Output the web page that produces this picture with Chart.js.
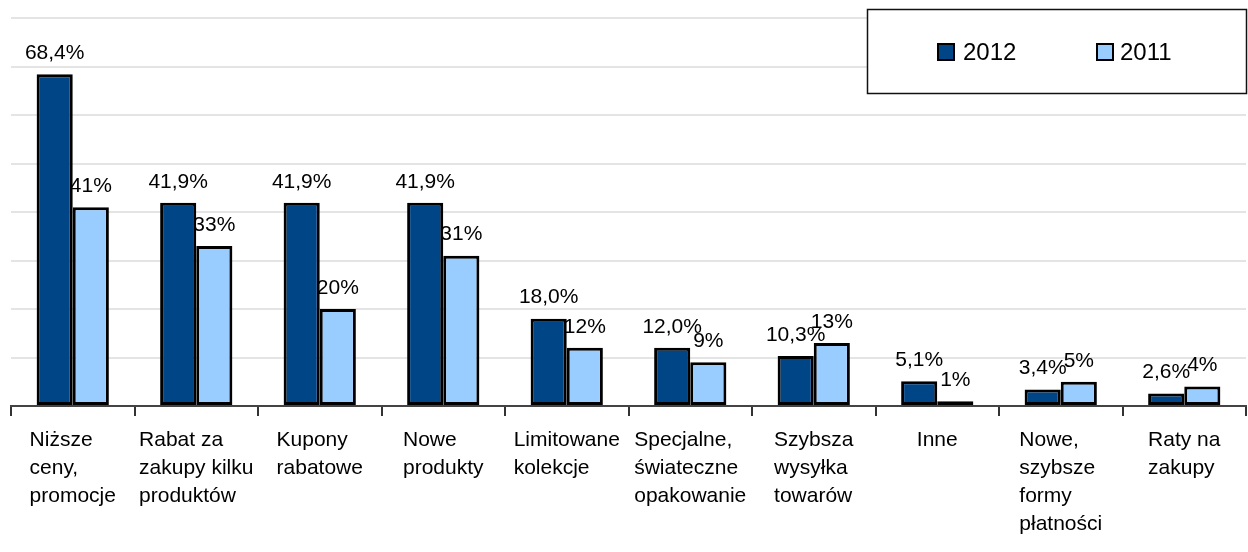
<!DOCTYPE html>
<html>
<head>
<meta charset="utf-8">
<title>Promocje 2012 / 2011</title>
<script src="https://cdn.jsdelivr.net/npm/chart.js@4/dist/chart.umd.min.js"></script>
<style>
    body { margin: 0; background: #fff; }
    canvas { display: block; }
</style>
</head>
<body>
<canvas id="chart" width="1248" height="552"></canvas>
<script>
    var categories = [
        ['Niższe', 'ceny,', 'promocje'],
        ['Rabat za', 'zakupy kilku', 'produktów'],
        ['Kupony', 'rabatowe'],
        ['Nowe', 'produkty'],
        ['Limitowane', 'kolekcje'],
        ['Specjalne,', 'świateczne', 'opakowanie'],
        ['Szybsza', 'wysyłka', 'towarów'],
        ['Inne'],
        ['Nowe,', 'szybsze', 'formy', 'płatności'],
        ['Raty na', 'zakupy']
    ];
    var values2012 = [68.4, 41.9, 41.9, 41.9, 18.0, 12.0, 10.3, 5.1, 3.4, 2.6];
    var values2011 = [41, 33, 20, 31, 12, 9, 13, 1, 5, 4];

    var FONT = '"Liberation Sans", Arial, sans-serif';

    function fmt2012(v) { return v.toFixed(1).replace('.', ',') + '%'; }
    function fmt2011(v) { return v + '%'; }

    // value labels above each bar
    var barLabels = {
        id: 'barLabels',
        afterDatasetsDraw: function(chart) {
            var ctx = chart.ctx;
            ctx.save();
            ctx.font = '21px ' + FONT;
            ctx.fillStyle = '#000';
            ctx.textAlign = 'center';
            ctx.textBaseline = 'middle';
            chart.data.datasets.forEach(function(ds, di) {
                var meta = chart.getDatasetMeta(di);
                meta.data.forEach(function(bar, i) {
                    ctx.fillText(ds.fmt(ds.data[i]), bar.x, bar.y - 21);
                });
            });
            ctx.restore();
        }
    };

    // category names: left aligned lines, block centred under the category
    var catLabels = {
        id: 'catLabels',
        afterDraw: function(chart) {
            var ctx = chart.ctx;
            var xs = chart.scales.x;
            var top = chart.chartArea.bottom + 34;
            ctx.save();
            ctx.font = '21px ' + FONT;
            ctx.fillStyle = '#000';
            ctx.textAlign = 'left';
            ctx.textBaseline = 'middle';
            categories.forEach(function(lines, i) {
                var w = 0;
                lines.forEach(function(l) { w = Math.max(w, ctx.measureText(l).width); });
                var left = xs.getPixelForValue(i) - w / 2;
                lines.forEach(function(l, k) {
                    ctx.fillText(l, left, top + k * 28);
                });
            });
            ctx.restore();
        }
    };

    // framed legend in the top right corner
    var boxLegend = {
        id: 'boxLegend',
        afterDraw: function(chart) {
            var ctx = chart.ctx;
            ctx.save();
            ctx.fillStyle = '#fff';
            ctx.fillRect(867, 9, 380, 85);
            ctx.strokeStyle = '#111';
            ctx.lineWidth = 1.5;
            ctx.strokeRect(867.5, 9.5, 379, 84);

            var items = [[937, 963], [1096, 1120]];
            ctx.font = '24px ' + FONT;
            ctx.textAlign = 'left';
            ctx.textBaseline = 'middle';
            chart.data.datasets.forEach(function(ds, di) {
                var pos = items[di];
                ctx.fillStyle = ds.backgroundColor;
                ctx.fillRect(pos[0], 43, 18, 18);
                ctx.lineWidth = 2;
                ctx.strokeStyle = '#000';
                ctx.strokeRect(pos[0] + 1, 44, 16, 16);
                ctx.fillStyle = '#000';
                ctx.fillText(ds.label, pos[1], 53);
            });
            ctx.restore();
        }
    };

    new Chart(document.getElementById('chart'), {
        type: 'bar',
        data: {
            labels: categories,
            datasets: [{
                label: '2012',
                data: values2012,
                fmt: fmt2012,
                backgroundColor: '#004586',
                borderColor: '#000',
                borderWidth: 3,
                borderSkipped: false
            }, {
                label: '2011',
                data: values2011,
                fmt: fmt2011,
                backgroundColor: '#99ccff',
                borderColor: '#000',
                borderWidth: 3,
                borderSkipped: false
            }]
        },
        options: {
            responsive: false,
            animation: false,
            layout: {
                padding: { top: 18, left: 11, right: 2, bottom: 136 }
            },
            datasets: {
                bar: { barPercentage: 1, categoryPercentage: 0.585 }
            },
            plugins: {
                legend: { display: false },
                tooltip: { enabled: false }
            },
            scales: {
                x: {
                    grid: {
                        offset: true,
                        drawOnChartArea: false,
                        drawTicks: true,
                        tickLength: 10,
                        color: '#333',
                        lineWidth: 2
                    },
                    border: { display: true, color: '#444', width: 2 },
                    ticks: { display: false }
                },
                y: {
                    min: 0,
                    max: 80,
                    ticks: { display: false, stepSize: 10 },
                    grid: { drawTicks: false, color: '#e4e4e4', lineWidth: 2 },
                    border: { display: false }
                }
            }
        },
        plugins: [barLabels, catLabels, boxLegend]
    });
</script>
</body>
</html>
